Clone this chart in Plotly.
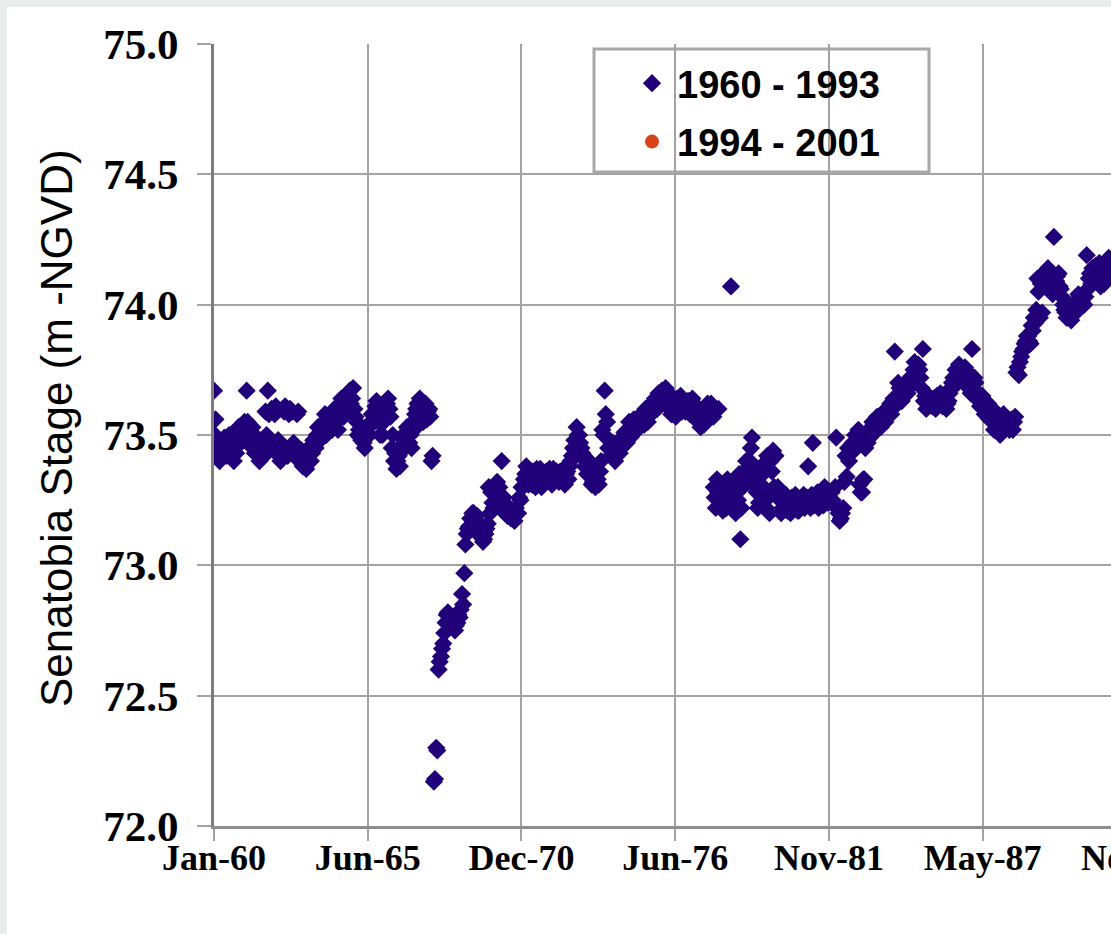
import plotly.graph_objects as go
import pandas as pd

# ---------------- data ----------------
# first-of-month readings
dates_1960s = [
    "1960-01-01", "1960-01-20", "1960-02", "1960-03", "1960-04", "1960-05", "1960-06", "1960-07", "1960-08", "1960-09", "1960-10", "1960-11", "1960-12",
    "1961-01", "1961-02", "1961-03", "1961-04", "1961-05", "1961-06", "1961-07", "1961-08", "1961-09", "1961-10", "1961-11", "1961-12",
    "1962-01", "1962-01-20", "1962-02", "1962-03", "1962-04", "1962-05", "1962-06", "1962-07", "1962-08", "1962-09", "1962-10", "1962-11", "1962-12",
    "1963-01", "1963-01-20", "1963-02", "1963-03", "1963-04", "1963-05", "1963-06", "1963-07", "1963-08", "1963-09", "1963-10", "1963-11", "1963-12",
    "1964-01", "1964-02", "1964-03", "1964-04", "1964-05", "1964-06", "1964-07", "1964-08", "1964-09", "1964-10", "1964-11", "1964-12",
    "1965-01", "1965-02", "1965-03", "1965-04", "1965-05", "1965-06", "1965-07", "1965-08", "1965-09", "1965-10", "1965-11", "1965-12",
    "1966-01", "1966-02", "1966-03", "1966-04", "1966-05", "1966-06", "1966-07", "1966-08", "1966-09", "1966-10", "1966-11", "1966-12",
    "1967-01", "1967-02", "1967-03", "1967-04", "1967-05", "1967-06", "1967-07", "1967-08", "1967-09", "1967-10", "1967-11", "1967-12",
    "1968-01", "1968-02", "1968-03", "1968-04", "1968-05", "1968-06", "1968-07", "1968-08", "1968-09", "1968-10", "1968-11", "1968-12",
    "1969-01", "1969-02", "1969-03", "1969-04", "1969-05", "1969-06", "1969-07", "1969-08", "1969-09", "1969-10", "1969-11", "1969-12",
]
stage_1960s = [
    73.67, 73.56, 73.48, 73.43, 73.42, 73.44, 73.46, 73.44, 73.42, 73.45, 73.48, 73.50, 73.52,
    73.53, 73.55, 73.67, 73.52, 73.50, 73.47, 73.45, 73.42, 73.44, 73.46, 73.59, 73.67,
    73.47, 73.60, 73.59, 73.58, 73.45, 73.43, 73.41, 73.59, 73.60, 73.58, 73.44, 73.47, 73.43,
    73.59, 73.42, 73.40, 73.38, 73.40, 73.42, 73.45, 73.43, 73.47, 73.50, 73.48, 73.52, 73.55,
    73.50, 73.53, 73.56, 73.58, 73.55, 73.52, 73.60, 73.62, 73.58, 73.63, 73.67, 73.64,
    73.60, 73.55, 73.52, 73.48, 73.47, 73.50, 73.53, 73.55, 73.58, 73.61, 73.56, 73.50,
    73.50, 73.58, 73.62, 73.60, 73.45, 73.40, 73.37, 73.42, 73.46, 73.50, 73.48, 73.52,
    73.50, 73.55, 73.58, 73.62, 73.64, 73.60, 73.58, 73.56, 73.60, 73.40, 72.17, 72.30,
    72.60, 72.65, 72.70, 72.78, 72.82, 72.80, 72.76, 72.75, 72.78, 72.80, 72.89, 72.97,
    73.12, 73.15, 73.18, 73.20, 73.17, 73.14, 73.11, 73.09, 73.12, 73.16, 73.20, 73.24,
]

dates_1970s = [
    "1970-01", "1970-02", "1970-03", "1970-04", "1970-05", "1970-06", "1970-07", "1970-08", "1970-09", "1970-10", "1970-11", "1970-12",
    "1971-01", "1971-02", "1971-03", "1971-04", "1971-05", "1971-06", "1971-07", "1971-08", "1971-09", "1971-10", "1971-11", "1971-12",
    "1972-01", "1972-02", "1972-03", "1972-04", "1972-05", "1972-06", "1972-07", "1972-08", "1972-09", "1972-10", "1972-11", "1972-12",
    "1973-01", "1973-02", "1973-03", "1973-04", "1973-05", "1973-06", "1973-07", "1973-08", "1973-09", "1973-10", "1973-11", "1973-12",
    "1974-01", "1974-02", "1974-03", "1974-04", "1974-05", "1974-06", "1974-07", "1974-08", "1974-09", "1974-10", "1974-11", "1974-12",
    "1975-01", "1975-02", "1975-03", "1975-04", "1975-05", "1975-06", "1975-07", "1975-08", "1975-09", "1975-10", "1975-11", "1975-12",
    "1976-01", "1976-02", "1976-03", "1976-04", "1976-05", "1976-06", "1976-07", "1976-08", "1976-09", "1976-10", "1976-11", "1976-12",
    "1977-01", "1977-02", "1977-03", "1977-04", "1977-05", "1977-06", "1977-07", "1977-08", "1977-09", "1977-10", "1977-10-20", "1977-11", "1977-12", "1977-12-20",
    "1978-01", "1978-02", "1978-03", "1978-04", "1978-05", "1978-06", "1978-07", "1978-08", "1978-09", "1978-10", "1978-11", "1978-12",
    "1979-01", "1979-02", "1979-03", "1979-04", "1979-05", "1979-06", "1979-07", "1979-08", "1979-09", "1979-10", "1979-11", "1979-12",
]
stage_1970s = [
    73.28, 73.32, 73.30, 73.40, 73.26, 73.22, 73.20, 73.18, 73.19, 73.22, 73.20, 73.25,
    73.30, 73.35, 73.33, 73.36, 73.31, 73.34, 73.37, 73.33, 73.30, 73.35, 73.36, 73.33,
    73.34, 73.37, 73.33, 73.35, 73.36, 73.34, 73.31, 73.36, 73.38, 73.42, 73.48, 73.53,
    73.50, 73.45, 73.42, 73.40, 73.37, 73.34, 73.32, 73.30, 73.33, 73.36, 73.52, 73.67,
    73.55, 73.48, 73.44, 73.42, 73.43, 73.46, 73.45, 73.48, 73.50, 73.52, 73.49, 73.53,
    73.55, 73.52, 73.56, 73.58, 73.54, 73.57, 73.60, 73.62, 73.59, 73.63, 73.66, 73.62,
    73.65, 73.68, 73.63, 73.60, 73.58, 73.61, 73.64, 73.62, 73.59, 73.62, 73.60, 73.63,
    73.62, 73.60, 73.58, 73.55, 73.53, 73.57, 73.60, 73.62, 73.59, 73.61, 73.30, 73.26, 73.33, 73.60,
    73.28, 73.25, 73.30, 73.22, 73.27, 74.07, 73.32, 73.20, 73.25, 73.10, 73.30, 73.34,
    73.36, 73.40, 73.49, 73.35, 73.28, 73.24, 73.38, 73.30, 73.22, 73.26, 73.40, 73.44,
]

dates_1980s = [
    "1980-01", "1980-02", "1980-03", "1980-04", "1980-05", "1980-06", "1980-07", "1980-08", "1980-09", "1980-10", "1980-11", "1980-12",
    "1981-01", "1981-02", "1981-03", "1981-04", "1981-05", "1981-06", "1981-07", "1981-08", "1981-09", "1981-10", "1981-11", "1981-12",
    "1982-01", "1982-02", "1982-03", "1982-04", "1982-05", "1982-06", "1982-07", "1982-08", "1982-09", "1982-10", "1982-11", "1982-12",
    "1983-01", "1983-02", "1983-03", "1983-04", "1983-05", "1983-06", "1983-07", "1983-08", "1983-09", "1983-10", "1983-11", "1983-12",
    "1984-01", "1984-02", "1984-03", "1984-04", "1984-05", "1984-06", "1984-07", "1984-08", "1984-09", "1984-10", "1984-11", "1984-12",
    "1985-01", "1985-02", "1985-03", "1985-04", "1985-05", "1985-06", "1985-07", "1985-08", "1985-09", "1985-10", "1985-11", "1985-12",
    "1986-01", "1986-02", "1986-03", "1986-04", "1986-05", "1986-06", "1986-07", "1986-08", "1986-09", "1986-10", "1986-11", "1986-12",
    "1987-01", "1987-02", "1987-03", "1987-04", "1987-05", "1987-06", "1987-07", "1987-08", "1987-09", "1987-10", "1987-11", "1987-12",
    "1988-01", "1988-02", "1988-03", "1988-04", "1988-05", "1988-06", "1988-07", "1988-08", "1988-09", "1988-10", "1988-11", "1988-12",
    "1989-01", "1989-02", "1989-03", "1989-04", "1989-05", "1989-06", "1989-07", "1989-08", "1989-09", "1989-10", "1989-11", "1989-12",
]
stage_1980s = [
    73.42, 73.30, 73.25, 73.22, 73.24, 73.21, 73.23, 73.26, 73.22, 73.24, 73.21, 73.25,
    73.27, 73.24, 73.38, 73.22, 73.47, 73.26, 73.28, 73.24, 73.29, 73.30, 73.27, 73.25,
    73.28, 73.23, 73.49, 73.20, 73.18, 73.22, 73.42, 73.45, 73.43, 73.47, 73.50, 73.48,
    73.31, 73.28, 73.33, 73.49, 73.52, 73.50, 73.54, 73.52, 73.56, 73.53, 73.57, 73.55,
    73.58, 73.62, 73.60, 73.82, 73.65, 73.68, 73.63, 73.66, 73.70, 73.68, 73.72, 73.75,
    73.74, 73.77, 73.72, 73.83, 73.65, 73.62, 73.64, 73.61, 73.63, 73.65, 73.62, 73.64,
    73.62, 73.60, 73.63, 73.68, 73.72, 73.75, 73.70, 73.73, 73.71, 73.76, 73.72, 73.70,
    73.83, 73.72, 73.66, 73.63, 73.62, 73.60, 73.58, 73.62, 73.57, 73.55, 73.59, 73.53,
    73.50, 73.55, 73.57, 73.54, 73.52, 73.56, 73.55, 73.74, 73.73, 73.80, 73.83, 73.86,
    73.88, 73.85, 73.90, 73.93, 74.10, 73.95, 73.97, 74.12, 74.08, 74.10, 74.06, 74.26,
]

dates_1990s = [
    "1990-01", "1990-02", "1990-03", "1990-04", "1990-05", "1990-06", "1990-07", "1990-08", "1990-09", "1990-10", "1990-11", "1990-12",
    "1991-01", "1991-02", "1991-03", "1991-04", "1991-05", "1991-06", "1991-07", "1991-08", "1991-09", "1991-10", "1991-11", "1991-12",
]
stage_1990s = [
    74.09, 74.12, 74.06, 74.00, 73.97, 73.95, 73.98, 73.96, 74.00, 74.02, 73.99, 74.01,
    74.00, 74.19, 74.10, 74.08, 74.12, 74.15, 74.10, 74.07, 74.12, 74.10, 74.13, 74.17,
]

# mid-month readings (15th of each month, Jan 1960 - Dec 1991)
mid_stage_1960s = [
    73.50, 73.45, 73.40, 73.47, 73.49, 73.42, 73.50, 73.47, 73.40, 73.43, 73.53, 73.47,
    73.48, 73.50, 73.55, 73.46, 73.53, 73.43, 73.49, 73.40, 73.48, 73.42, 73.50, 73.58,
    73.59, 73.44, 73.61, 73.48, 73.40, 73.46, 73.61, 73.42, 73.60, 73.59, 73.42, 73.58,
    73.40, 73.44, 73.42, 73.37, 73.45, 73.40, 73.48, 73.45, 73.53, 73.51, 73.49, 73.58,
    73.54, 73.56, 73.52, 73.60, 73.58, 73.56, 73.64, 73.57, 73.61, 73.59, 73.62, 73.68,
    73.57, 73.50, 73.49, 73.52, 73.45, 73.53, 73.50, 73.58, 73.55, 73.63, 73.59, 73.54,
    73.55, 73.60, 73.64, 73.57, 73.50, 73.43, 73.40, 73.38, 73.44, 73.48, 73.53, 73.47,
    73.45, 73.52, 73.60, 73.57, 73.62, 73.55, 73.62, 73.59, 73.57, 73.42, 72.18, 72.29,
    72.63, 72.68, 72.74, 72.81, 72.78, 72.77, 72.79, 72.77, 72.81, 72.83, 72.85, 73.08,
    73.14, 73.18, 73.20, 73.16, 73.19, 73.12, 73.13, 73.10, 73.14, 73.30, 73.28, 73.22,
]
mid_stage_1970s = [
    73.30, 73.25, 73.27, 73.23, 73.20, 73.19, 73.22, 73.21, 73.17, 73.20, 73.26, 73.30,
    73.33, 73.38, 73.31, 73.33, 73.36, 73.30, 73.34, 73.37, 73.35, 73.32, 73.33, 73.37,
    73.31, 73.34, 73.36, 73.32, 73.33, 73.37, 73.35, 73.33, 73.40, 73.45, 73.44, 73.50,
    73.47, 73.43, 73.38, 73.35, 73.40, 73.31, 73.34, 73.36, 73.31, 73.40, 73.50, 73.58,
    73.45, 73.42, 73.47, 73.40, 73.45, 73.43, 73.49, 73.51, 73.47, 73.55, 73.53, 73.56,
    73.52, 73.57, 73.54, 73.55, 73.60, 73.55, 73.58, 73.60, 73.64, 73.60, 73.62, 73.67,
    73.62, 73.64, 73.66, 73.58, 73.62, 73.57, 73.60, 73.65, 73.61, 73.59, 73.63, 73.58,
    73.64, 73.57, 73.61, 73.58, 73.56, 73.54, 73.58, 73.60, 73.62, 73.57, 73.22, 73.28,
    73.30, 73.21, 73.27, 73.33, 73.24, 73.30, 73.23, 73.28, 73.35, 73.22, 73.36, 73.40,
    73.32, 73.45, 73.38, 73.30, 73.22, 73.34, 73.27, 73.25, 73.42, 73.20, 73.36, 73.30,
]
mid_stage_1980s = [
    73.28, 73.26, 73.20, 73.25, 73.27, 73.23, 73.20, 73.24, 73.27, 73.21, 73.25, 73.23,
    73.22, 73.26, 73.24, 73.27, 73.23, 73.25, 73.22, 73.26, 73.23, 73.27, 73.24, 73.28,
    73.25, 73.30, 73.22, 73.17, 73.20, 73.32, 73.34, 73.40, 73.46, 73.44, 73.45, 73.52,
    73.28, 73.33, 73.45, 73.47, 73.49, 73.55, 73.51, 73.57, 73.53, 73.58, 73.55, 73.60,
    73.60, 73.58, 73.64, 73.62, 73.70, 73.64, 73.67, 73.69, 73.66, 73.72, 73.70, 73.78,
    73.72, 73.75, 73.68, 73.63, 73.60, 73.65, 73.62, 73.64, 73.60, 73.63, 73.66, 73.61,
    73.65, 73.62, 73.66, 73.70, 73.69, 73.73, 73.77, 73.71, 73.74, 73.69, 73.74, 73.66,
    73.68, 73.70, 73.64, 73.61, 73.65, 73.58, 73.61, 73.56, 73.60, 73.52, 73.55, 73.57,
    73.53, 73.58, 73.55, 73.56, 73.54, 73.52, 73.57, 73.76, 73.78, 73.82, 73.85, 73.88,
    73.86, 73.92, 73.95, 73.98, 74.05, 74.08, 74.12, 74.10, 74.14, 74.06, 74.04, 74.08,
]
mid_stage_1990s = [
    74.11, 74.07, 74.03, 73.98, 73.95, 73.99, 73.94, 74.00, 73.97, 74.04, 74.01, 74.03,
    74.03, 74.06, 74.12, 74.14, 74.09, 74.11, 74.16, 74.12, 74.08, 74.14, 74.18, 74.12,
]
mid_month_dates = pd.date_range("1960-01-01", "1991-12-01", freq="MS") + pd.Timedelta(days=14)

# second period: none of its points fall inside the visible (cropped) window
dates_late = [None]
stage_late = [None]

series_names = ["1960 - 1993", "1994 - 2001"]
y_ticks = [72.0, 72.5, 73.0, 73.5, 74.0, 74.5, 75.0]
x_range = ["1960-01-01", "1991-12-14"]
x_tick0 = "1960-01-01"
x_tick_days = 2000
cut_tick_label = "Nov-92"   # next tick label, cropped at right edge

# ---------------- figure ----------------
W, H = 1111, 934
L, T, B, R = 214, 44, 108, 0
pw, ph = W - L - R, H - T - B

early_dates = (dates_1960s + dates_1970s + dates_1980s + dates_1990s
               + [d.strftime("%Y-%m-%d") for d in mid_month_dates])
early_stage = (stage_1960s + stage_1970s + stage_1980s + stage_1990s
               + mid_stage_1960s + mid_stage_1970s + mid_stage_1980s + mid_stage_1990s)

fig = go.Figure()
fig.add_trace(go.Scatter(
    x=early_dates, y=early_stage, mode="markers", name=series_names[0], legendgroup="a",
    marker=dict(symbol="diamond", size=14, color="#21007a", line=dict(width=0)),
))
fig.add_trace(go.Scatter(
    x=dates_late, y=stage_late, mode="markers", name=series_names[1], legendgroup="b",
    marker=dict(symbol="circle", size=14, color="#d8431a", line=dict(width=0)),
))


def px_x(p):
    return (p - L) / pw


def px_y(p):
    return (H - B - p) / ph


grid = "#a3a3a3"
fig.update_layout(
    width=W, height=H,
    margin=dict(l=L, r=R, t=T, b=B, pad=0),
    paper_bgcolor="#e9ecec",
    plot_bgcolor="white",
    showlegend=True,
    legend=dict(
        x=px_x(627), y=px_y(52), xanchor="left", yanchor="top",
        bgcolor="rgba(0,0,0,0)", borderwidth=0,
        font=dict(family="Liberation Sans", size=38, color="black", weight="bold"),
        itemsizing="trace", itemwidth=40, traceorder="grouped", tracegroupgap=6,
    ),
    xaxis=dict(
        type="date", range=x_range, tick0=x_tick0, dtick=x_tick_days * 86400000,
        tickformat="%b-%y", showgrid=True, gridcolor=grid, gridwidth=2,
        showline=True, linecolor="#8e8e8e", linewidth=3,
        ticks="outside", ticklen=12, tickwidth=2, tickcolor=grid,
        tickfont=dict(family="Liberation Serif", size=36, color="black", weight="bold"),
        ticklabelstandoff=-14, zeroline=False, fixedrange=True,
    ),
    yaxis=dict(
        range=[72, 75], tickvals=y_ticks, tickformat=".1f",
        showgrid=True, gridcolor=grid, gridwidth=2,
        showline=True, linecolor="#7d7d7d", linewidth=3,
        ticks="outside", ticklen=14, tickwidth=2, tickcolor=grid,
        tickfont=dict(family="Liberation Serif", size=43, color="black", weight="bold"),
        ticklabelstandoff=10, zeroline=False, fixedrange=True,
    ),
    shapes=[
        # white chart panel on the light-grey page
        dict(type="rect", xref="paper", yref="paper", layer="below",
             x0=px_x(7), x1=px_x(W + 5), y0=px_y(H + 5), y1=px_y(7),
             fillcolor="white", line=dict(width=0)),
        # legend frame
        dict(type="rect", xref="paper", yref="paper", layer="between",
             x0=px_x(594), x1=px_x(929), y0=px_y(172), y1=px_y(49),
             fillcolor="white", line=dict(color="#a8a8a8", width=3)),
    ],
    annotations=[
        dict(text="Senatobia Stage (m -NGVD)", textangle=-90, xref="paper", yref="paper",
             x=px_x(56), y=px_y(428), xanchor="center", yanchor="middle", showarrow=False,
             font=dict(family="Liberation Sans", size=44, color="black")),
        dict(text=cut_tick_label, xref="paper", yref="paper",
             x=px_x(L + pw * 12000 / 11670), y=px_y(858), xanchor="center", yanchor="middle",
             showarrow=False,
             font=dict(family="Liberation Serif", size=36, color="black", weight="bold")),
    ],
)

fig.write_html("out.html")
